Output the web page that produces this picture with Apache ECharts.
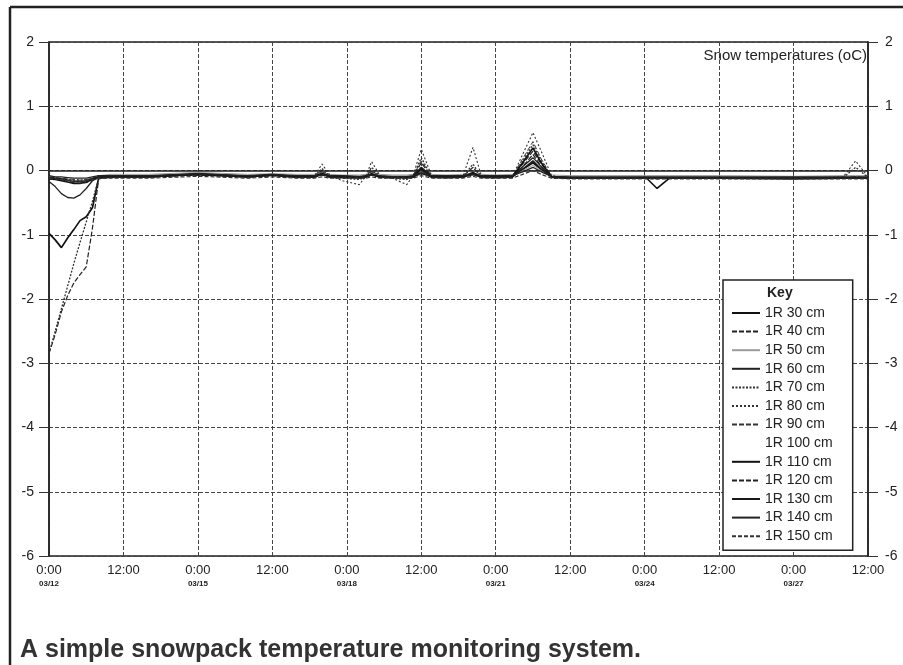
<!DOCTYPE html>
<html>
<head>
<meta charset="utf-8">
<script src="https://cdn.jsdelivr.net/npm/echarts@6/dist/echarts.min.js"></script>
<style>
html, body { margin: 0; padding: 0; background: #fff; }
#snowTemp { width: 903px; height: 665px; }
</style>
</head>
<body>
<div id="snowTemp"></div>
<script>
// hours since 03/12 0:00
var hours = [0,3,6,9,12,15,18,21,24, 30,48,72,96,108,120,
    128,132,136,142,150,153,156,160,166,173,176,180,185,
    192,200,205,209,216, 224,229,234,238,243, 252,270,289,294,300, 324,360,384,390,396];

var timeLabels = ['0:00','12:00','0:00','12:00','0:00','12:00','0:00','12:00','0:00','12:00','0:00','12:00'];
var dateLabels = ['03/12','','03/15','','03/18','','03/21','','03/24','','03/27',''];
var yTicks = [-6,-5,-4,-3,-2,-1,0,1,2];

var sensorNames = ['1R 30 cm','1R 40 cm','1R 50 cm','1R 60 cm','1R 70 cm','1R 80 cm','1R 90 cm',
    '1R 100 cm','1R 110 cm','1R 120 cm','1R 130 cm','1R 140 cm','1R 150 cm'];

var s30 = [-0.98,-1.08,-1.2,-1.05,-0.92,-0.78,-0.72,-0.58,-0.12, -0.1,-0.09,-0.05,-0.09,-0.06,-0.1,
    -0.09,-0.04,-0.09,-0.1,-0.11,-0.1,-0.05,-0.1,-0.11,-0.11,-0.1,-0.02,-0.1,
    -0.11,-0.1,-0.06,-0.1,-0.11, -0.1,0.02,0.12,0.02,-0.1, -0.12,-0.12,-0.11,-0.12,-0.12, -0.12,-0.13,-0.12,-0.12,-0.12];
var s40 = [-2.85,-2.55,-2.2,-1.95,-1.75,-1.62,-1.5,-0.9,-0.13, -0.1,-0.1,-0.07,-0.1,-0.08,-0.1,
    -0.1,0.0,-0.1,-0.11,-0.12,-0.1,-0.02,-0.1,-0.11,-0.12,-0.1,0.12,-0.1,
    -0.1,-0.1,0.05,-0.1,-0.1, -0.1,0.1,0.3,0.1,-0.1, -0.12,-0.12,-0.12,-0.12,-0.12, -0.12,-0.12,-0.12,-0.1,-0.12];
var s50 = [-0.1,-0.12,-0.14,-0.16,-0.18,-0.18,-0.16,-0.12,-0.08, -0.06,-0.06,-0.03,-0.06,-0.05,-0.06,
    -0.06,-0.03,-0.06,-0.07,-0.07,-0.06,-0.04,-0.06,-0.07,-0.07,-0.06,-0.02,-0.06,
    -0.07,-0.06,-0.04,-0.06,-0.07, -0.06,0.0,0.08,0.0,-0.07, -0.08,-0.08,-0.08,-0.08,-0.08, -0.08,-0.09,-0.08,-0.08,-0.08];
var s60 = [-0.17,-0.25,-0.36,-0.42,-0.43,-0.38,-0.28,-0.16,-0.11, -0.1,-0.1,-0.06,-0.1,-0.07,-0.1,
    -0.1,-0.06,-0.1,-0.1,-0.11,-0.1,-0.07,-0.1,-0.1,-0.11,-0.1,-0.05,-0.1,
    -0.1,-0.1,-0.04,-0.1,-0.1, -0.1,0.06,0.2,0.06,-0.1, -0.12,-0.12,-0.12,-0.12,-0.12, -0.12,-0.12,-0.12,-0.12,-0.12];
var s70 = [-2.85,-2.5,-2.15,-1.8,-1.45,-1.12,-0.8,-0.48,-0.12, -0.1,-0.1,-0.06,-0.1,-0.07,-0.1,
    -0.1,0.03,-0.1,-0.12,-0.14,-0.1,0.05,-0.1,-0.12,-0.14,-0.1,0.2,-0.1,
    -0.1,-0.1,0.1,-0.1,-0.1, -0.1,0.15,0.4,0.15,-0.1, -0.12,-0.12,-0.12,-0.12,-0.12, -0.12,-0.12,-0.11,0.05,-0.11];
var s80 = [-0.12,-0.12,-0.13,-0.14,-0.15,-0.15,-0.14,-0.12,-0.1, -0.1,-0.1,-0.06,-0.1,-0.08,-0.1,
    -0.1,0.1,-0.08,-0.16,-0.22,-0.1,0.14,-0.08,-0.12,-0.22,-0.08,0.33,-0.08,
    -0.1,-0.1,0.36,-0.08,-0.1, -0.1,0.25,0.59,0.3,-0.08, -0.12,-0.12,-0.12,-0.12,-0.12, -0.12,-0.12,-0.1,0.15,-0.1];
var s90 = [-0.1,-0.11,-0.12,-0.13,-0.14,-0.15,-0.14,-0.12,-0.1, -0.09,-0.09,-0.05,-0.09,-0.07,-0.09,
    -0.09,-0.02,-0.09,-0.1,-0.1,-0.09,0.0,-0.09,-0.1,-0.1,-0.09,0.15,-0.09,
    -0.09,-0.09,0.05,-0.09,-0.09, -0.09,0.18,0.45,0.18,-0.09, -0.11,-0.11,-0.11,-0.11,-0.11, -0.11,-0.11,-0.11,-0.11,-0.11];
var s100 = [-0.1,-0.1,-0.11,-0.12,-0.12,-0.12,-0.12,-0.11,-0.1, -0.1,-0.1,-0.07,-0.1,-0.08,-0.1,
    -0.1,-0.08,-0.1,-0.1,-0.1,-0.1,-0.08,-0.1,-0.1,-0.1,-0.1,-0.06,-0.1,
    -0.1,-0.1,-0.06,-0.1,-0.1, -0.1,0.0,0.1,0.0,-0.1, -0.11,-0.11,-0.11,-0.11,-0.11, -0.11,-0.11,-0.11,-0.11,-0.11];
var s110 = [-0.13,-0.14,-0.16,-0.18,-0.2,-0.2,-0.18,-0.14,-0.1, -0.1,-0.1,-0.06,-0.1,-0.07,-0.1,
    -0.1,-0.05,-0.1,-0.1,-0.1,-0.1,-0.05,-0.1,-0.1,-0.1,-0.1,0.03,-0.1,
    -0.1,-0.1,-0.03,-0.1,-0.1, -0.1,0.12,0.35,0.12,-0.1, -0.12,-0.12,-0.12,-0.28,-0.12, -0.12,-0.12,-0.12,-0.12,-0.12];
var s120 = [-0.12,-0.13,-0.15,-0.17,-0.19,-0.2,-0.19,-0.15,-0.11, -0.11,-0.1,-0.07,-0.1,-0.08,-0.11,
    -0.11,-0.07,-0.11,-0.11,-0.11,-0.11,-0.07,-0.11,-0.11,-0.11,-0.11,0.0,-0.11,
    -0.11,-0.11,-0.05,-0.11,-0.11, -0.11,0.06,0.25,0.06,-0.11, -0.12,-0.12,-0.12,-0.13,-0.12, -0.12,-0.12,-0.12,-0.12,-0.12];
var s130 = [-0.11,-0.12,-0.13,-0.15,-0.17,-0.17,-0.16,-0.13,-0.1, -0.09,-0.09,-0.06,-0.09,-0.07,-0.09,
    -0.09,-0.07,-0.09,-0.09,-0.1,-0.09,-0.07,-0.09,-0.1,-0.1,-0.09,0.05,-0.09,
    -0.09,-0.09,-0.05,-0.09,-0.09, -0.09,0.02,0.15,0.02,-0.1, -0.11,-0.11,-0.11,-0.11,-0.11, -0.11,-0.12,-0.11,-0.11,-0.11];
var s140 = [-0.08,-0.1,-0.1,-0.11,-0.12,-0.12,-0.12,-0.1,-0.08, -0.08,-0.08,-0.05,-0.08,-0.06,-0.08,
    -0.08,-0.07,-0.08,-0.08,-0.09,-0.08,-0.07,-0.08,-0.09,-0.09,-0.08,-0.04,-0.08,
    -0.08,-0.08,-0.06,-0.08,-0.08, -0.08,-0.02,0.05,-0.02,-0.09, -0.1,-0.1,-0.1,-0.1,-0.1, -0.1,-0.1,-0.1,-0.1,-0.1];
var s150 = [-0.12,-0.13,-0.14,-0.15,-0.16,-0.17,-0.16,-0.14,-0.12, -0.12,-0.12,-0.09,-0.12,-0.1,-0.12,
    -0.12,-0.1,-0.12,-0.12,-0.12,-0.12,-0.1,-0.12,-0.12,-0.12,-0.12,-0.08,-0.12,
    -0.12,-0.12,-0.09,-0.12,-0.12, -0.12,-0.06,0.0,-0.06,-0.12, -0.13,-0.13,-0.13,-0.13,-0.13, -0.13,-0.13,-0.13,-0.13,-0.13];

var sensorValues = [s30,s40,s50,s60,s70,s80,s90,s100,s110,s120,s130,s140,s150];

// line look of each sensor, same order as the key
var lineLook = [
    {type:'solid', width:1.7, color:'#111'},
    {type:[5,2], width:1.2, color:'#222'},
    {type:'solid', width:1, color:'#9a9a9a'},
    {type:'solid', width:1.3, color:'#222'},
    {type:[2,1.5], width:1.3, color:'#333'},
    {type:[2,2], width:1.1, color:'#333'},
    {type:[5,2], width:1, color:'#333'},
    {type:'solid', width:1, color:'#fff', opacity:0},
    {type:'solid', width:1.6, color:'#111'},
    {type:[5,2], width:1.2, color:'#222'},
    {type:'solid', width:1.4, color:'#1a1a1a'},
    {type:'solid', width:1.3, color:'#222'},
    {type:[4,2], width:1.2, color:'#333'}
];

var fontName = "'Liberation Sans', Arial, sans-serif";

var series = sensorNames.map(function (name, k) {
    return {
        name: name,
        type: 'line',
        symbol: 'none',
        animation: false,
        yAxisIndex: 0,
        itemStyle: {color: lineLook[k].color, opacity: 0},
        lineStyle: lineLook[k],
        data: hours.map(function (h, i) { return [h, sensorValues[k][i]]; })
    };
});

var yAxisBase = {
    type: 'value',
    min: yTicks[0],
    max: yTicks[yTicks.length - 1],
    interval: 1,
    axisLine: {show: true, lineStyle: {color: '#222', width: 1.5}},
    axisTick: {show: true, length: 10, lineStyle: {color: '#333'}}
};

var option = {
    backgroundColor: '#fff',
    animation: false,
    grid: {left: 49, right: 35, top: 42, bottom: 109, show: true, borderColor: '#222', borderWidth: 1.5},
    xAxis: {
        type: 'value',
        min: 0,
        max: 396,
        interval: 36,
        axisLine: {show: true, lineStyle: {color: '#222', width: 1.5}},
        axisTick: {show: true, length: 4, lineStyle: {color: '#333'}},
        splitLine: {show: true, lineStyle: {color: '#444', type: [4,2], width: 1}},
        axisLabel: {
            margin: 7,
            fontFamily: fontName,
            formatter: function (v) {
                var i = Math.round(v / 36);
                var d = dateLabels[i] ? '\n{d|' + dateLabels[i] + '}' : '\n{d| }';
                return '{t|' + timeLabels[i] + '}' + d;
            },
            rich: {
                t: {fontSize: 13, color: '#222', lineHeight: 15, fontFamily: fontName},
                d: {fontSize: 8, fontWeight: 'bold', color: '#222', lineHeight: 11, fontFamily: fontName}
            }
        }
    },
    yAxis: [
        Object.assign({}, yAxisBase, {
            position: 'left',
            splitLine: {show: true, lineStyle: {color: '#444', type: [4,2], width: 1}},
            axisLabel: {color: '#222', fontSize: 14, fontFamily: fontName, margin: 15}
        }),
        Object.assign({}, yAxisBase, {
            position: 'right',
            splitLine: {show: false},
            axisLabel: {color: '#222', fontSize: 14, fontFamily: fontName, margin: 17}
        })
    ],
    legend: {
        orient: 'vertical',
        left: 723,
        top: 280,
        padding: [26, 20, 7, 8],
        itemWidth: 28,
        itemHeight: 14,
        itemGap: 4.6,
        selectedMode: false,
        backgroundColor: '#fff',
        borderColor: '#222',
        borderWidth: 1.5,
        itemStyle: {opacity: 0},
        textStyle: {fontSize: 14, color: '#222', fontFamily: fontName},
        data: sensorNames
    },
    graphic: [
        {type: 'line', z: 100, shape: {x1: 10, y1: 7, x2: 903, y2: 7}, style: {stroke: '#222', lineWidth: 2.5}},
        {type: 'line', z: 100, shape: {x1: 10, y1: 7, x2: 10, y2: 665}, style: {stroke: '#222', lineWidth: 2.5}},
        {type: 'text', z: 100, left: 767, top: 286,
            style: {text: 'Key', font: 'bold 14px ' + fontName, fill: '#222'}},
        {type: 'text', z: 100, right: 36, top: 48,
            style: {text: 'Snow temperatures (oC)', font: '15px ' + fontName, fill: '#222'}},
        {type: 'text', z: 100, left: 20, top: 638,
            style: {text: 'A simple snowpack temperature monitoring system.', font: 'bold 25px ' + fontName, fill: '#333'}}
    ],
    series: series
};

var chartSnow = echarts.init(document.getElementById('snowTemp'));
chartSnow.setOption(option);
</script>
</body>
</html>
